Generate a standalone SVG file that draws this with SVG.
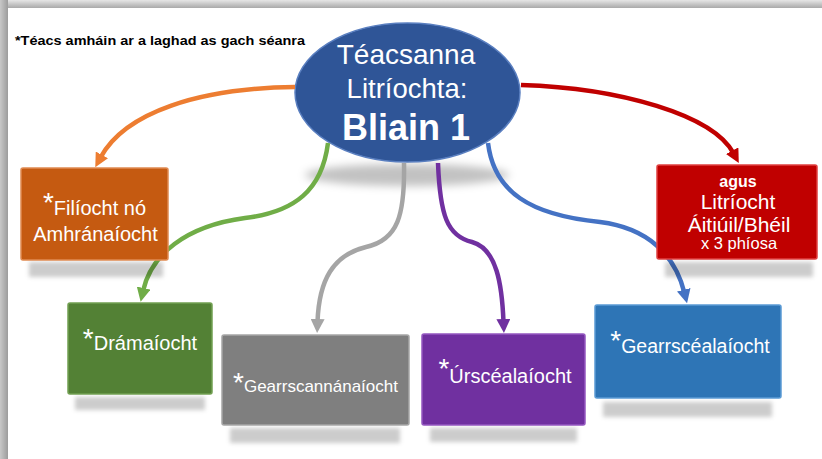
<svg xmlns="http://www.w3.org/2000/svg" width="822" height="459" viewBox="0 0 822 459">
<style>
.t{font-family:"Liberation Sans",Arial,sans-serif;fill:#fff;text-anchor:middle}
.c{fill:none;stroke-width:4.5;stroke-linecap:butt}
.sh{fill:#000;fill-opacity:.2;filter:url(#blur)}
.ast{font-size:28px}
</style>
<defs>
<filter id="blur" x="-20%" y="-50%" width="140%" height="200%"><feGaussianBlur stdDeviation="2.2"/></filter>
<filter id="blur2" x="-20%" y="-100%" width="140%" height="300%"><feGaussianBlur stdDeviation="4"/></filter>
<linearGradient id="gTop" x1="0" y1="0" x2="0" y2="1"><stop offset="0" stop-color="#e6e6e6"/><stop offset="1" stop-color="#a9a9a9"/></linearGradient>
<linearGradient id="gLeft" x1="0" y1="0" x2="1" y2="0"><stop offset="0" stop-color="#c8c8c8"/><stop offset="1" stop-color="#9c9c9c"/></linearGradient>
<marker id="aO" viewBox="0 0 14 14" refX="3" refY="7" markerWidth="14" markerHeight="14" markerUnits="userSpaceOnUse" orient="auto"><path d="M0,0L14,7L0,14z" fill="#ED7D31"/></marker>
<marker id="aR" viewBox="0 0 14 14" refX="3" refY="7" markerWidth="14" markerHeight="14" markerUnits="userSpaceOnUse" orient="auto"><path d="M0,0L14,7L0,14z" fill="#C00000"/></marker>
<marker id="aG" viewBox="0 0 14 14" refX="3" refY="7" markerWidth="14" markerHeight="14" markerUnits="userSpaceOnUse" orient="auto"><path d="M0,0L14,7L0,14z" fill="#70AD47"/></marker>
<marker id="aY" viewBox="0 0 14 14" refX="3" refY="7" markerWidth="14" markerHeight="14" markerUnits="userSpaceOnUse" orient="auto"><path d="M0,0L14,7L0,14z" fill="#A5A5A5"/></marker>
<marker id="aP" viewBox="0 0 14 14" refX="3" refY="7" markerWidth="14" markerHeight="14" markerUnits="userSpaceOnUse" orient="auto"><path d="M0,0L14,7L0,14z" fill="#7030A0"/></marker>
<marker id="aB" viewBox="0 0 14 14" refX="3" refY="7" markerWidth="14" markerHeight="14" markerUnits="userSpaceOnUse" orient="auto"><path d="M0,0L14,7L0,14z" fill="#4472C4"/></marker>
</defs>
<rect width="822" height="459" fill="#fff"/>
<rect x="0" y="0" width="822" height="8" fill="url(#gTop)"/>
<rect x="0" y="0" width="8" height="459" fill="url(#gLeft)"/>
<text x="15" y="45" font-family="Liberation Sans,Arial,sans-serif" font-weight="bold" font-size="13.5" fill="#000" textLength="290" lengthAdjust="spacingAndGlyphs">*Téacs amháin ar a laghad as gach séanra</text>

<g id="root">
<ellipse cx="407" cy="175" rx="102" ry="11" fill="#000" fill-opacity=".24" filter="url(#blur2)"/>
<ellipse cx="407.5" cy="92.5" rx="112.5" ry="69.5" fill="#2F5597" stroke="#5a7fc0" stroke-width="1.5"/>
<text class="t" x="406" y="64" font-size="28">Téacsanna</text>
<text class="t" x="407" y="98" font-size="27.5">Litríochta:</text>
<text class="t" x="406" y="140" font-size="36" font-weight="bold">Bliain 1</text>
</g>

<g id="connectors">
<path class="c" stroke="#ED7D31" d="M295,87 C200,88 125,112 100.5,157.5" marker-end="url(#aO)"/>
<path class="c" stroke="#C00000" d="M521,85 C620,88 713,115 733.6,153.4" marker-end="url(#aR)"/>
<path class="c" stroke="#70AD47" d="M328,143 C322,190 295,212 245,218 C185,226 151,255 143,291" marker-end="url(#aG)"/>
<path class="c" stroke="#A5A5A5" d="M404,163 C405,215 398,240 366,247 C333,255 319,280 317.5,322" marker-end="url(#aY)"/>
<path class="c" stroke="#7030A0" d="M438,163 C440,215 447,236 472,242 C497,249 502,285 503.5,322" marker-end="url(#aP)"/>
<path class="c" stroke="#4472C4" d="M488,143 C494,192 530,215 600,222 C648,228 675,255 684.4,292.7" marker-end="url(#aB)"/>
</g>

<g id="filiocht">
<rect class="sh" x="29" y="262" width="134" height="15"/>
<rect x="21" y="168" width="147" height="92" rx="2" fill="#C55A11" stroke="#e08a52" stroke-width="1.5"/>
<text class="t" x="94.5" y="215" font-size="20"><tspan class="ast" dy="-3">*</tspan><tspan dy="3">Filíocht nó</tspan></text>
<text class="t" x="95.5" y="241" font-size="20">Amhránaíocht</text>
</g>

<g id="dramaiocht">
<rect class="sh" x="75" y="397" width="130" height="13"/>
<rect x="68" y="303" width="144" height="91" rx="2" fill="#538135" stroke="#72a052" stroke-width="1.5"/>
<text class="t" x="140" y="350" font-size="20"><tspan class="ast" dy="-2">*</tspan><tspan dy="2">Drámaíocht</tspan></text>
</g>

<g id="gearrscannanaiocht">
<rect class="sh" x="230" y="428" width="170" height="15"/>
<rect x="222" y="335" width="187" height="90" rx="2" fill="#7F7F7F" stroke="#a6a6a6" stroke-width="1.5"/>
<text class="t" x="315.5" y="392" font-size="17"><tspan class="ast" dy="0">*</tspan><tspan>Gearrscannánaíocht</tspan></text>
</g>

<g id="urscealaiocht">
<rect class="sh" x="430" y="428" width="147" height="14"/>
<rect x="422" y="334" width="163" height="91" rx="2" fill="#7030A0" stroke="#9457c0" stroke-width="1.5"/>
<text class="t" x="505" y="383" font-size="20"><tspan class="ast" dy="-5">*</tspan><tspan dy="5">Úrscéalaíocht</tspan></text>
</g>

<g id="gearrscealaiocht">
<rect class="sh" x="603" y="402" width="169" height="15"/>
<rect x="595" y="305" width="186" height="93" rx="2" fill="#2E75B6" stroke="#5b9bd5" stroke-width="1.5"/>
<text class="t" x="690" y="353" font-size="19.5"><tspan class="ast" dy="-3">*</tspan><tspan dy="3">Gearrscéalaíocht</tspan></text>
</g>

<g id="litriocht">
<rect class="sh" x="665" y="262" width="148" height="15"/>
<rect x="657" y="165" width="160" height="94" rx="2" fill="#C00000" stroke="#e04040" stroke-width="1.5"/>
<text class="t" x="738" y="187" font-size="16" font-weight="bold">agus</text>
<text class="t" x="738" y="209" font-size="21">Litríocht</text>
<text class="t" x="739" y="231.5" font-size="21">Áitiúil/Bhéil</text>
<text class="t" x="739" y="249" font-size="16.5">x 3 phíosa</text>
</g>
</svg>
